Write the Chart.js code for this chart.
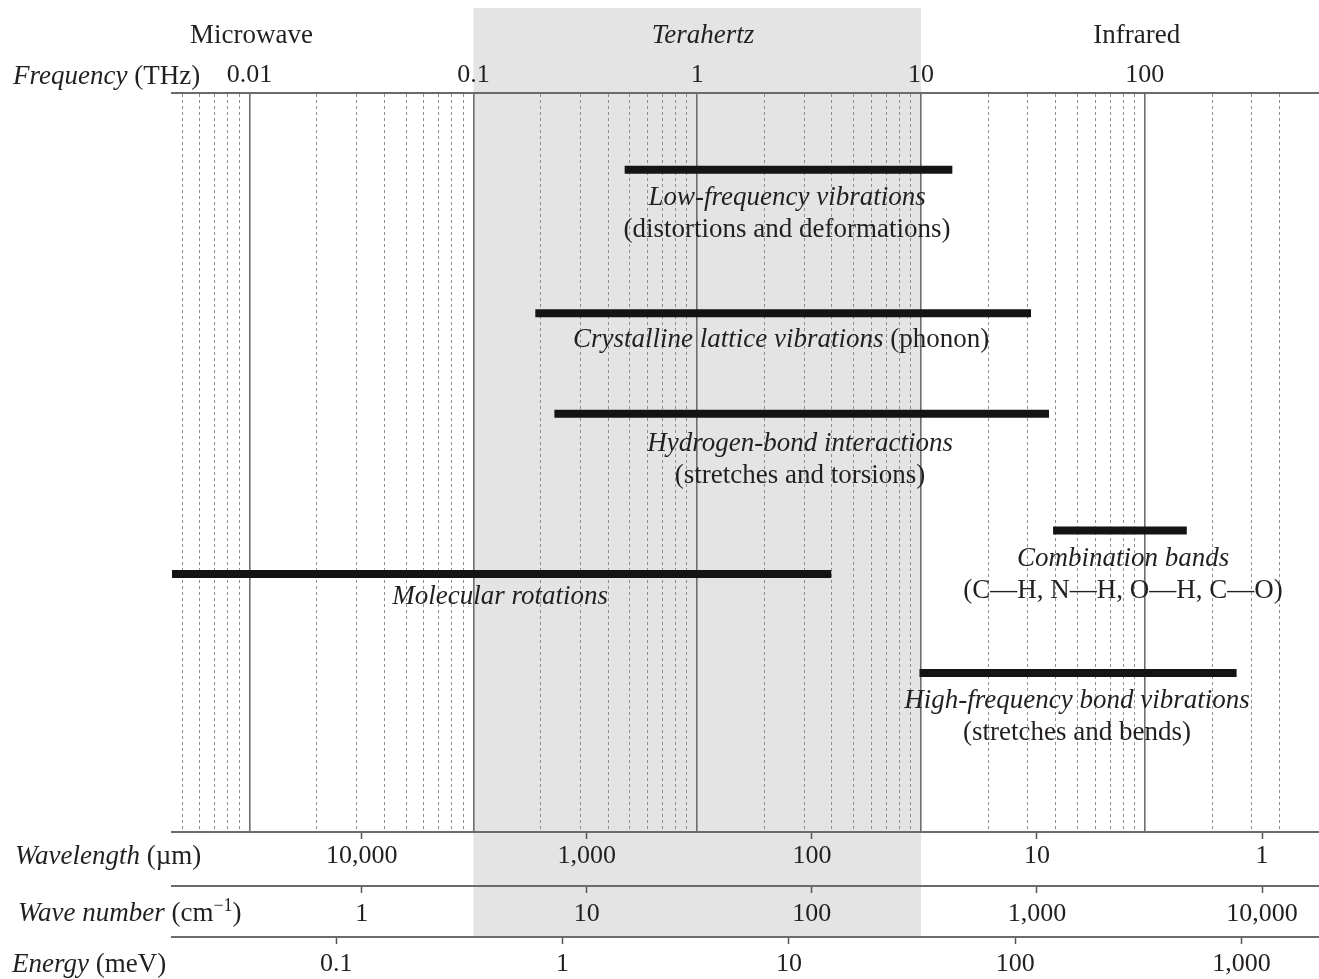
<!DOCTYPE html>
<html lang="en">
<head>
<meta charset="UTF-8">
<title>Terahertz spectrum</title>
<script src="https://cdn.jsdelivr.net/npm/chart.js@4"></script>
<style>
  html, body { margin: 0; padding: 0; background: #fff; }
  #chart { display: block; }
</style>
</head>
<body>
<canvas id="chart" width="1319" height="979"></canvas>
<script>
// frequency axis (THz): where the grid lines sit and which decades get a label
const freqGrid = [
  0.005, 0.006, 0.007, 0.008, 0.009,
  0.01, 0.02, 0.03, 0.04, 0.05, 0.06, 0.07, 0.08, 0.09,
  0.1, 0.2, 0.3, 0.4, 0.5, 0.6, 0.7, 0.8, 0.9,
  1, 2, 3, 4, 5, 6, 7, 8, 9,
  10, 20, 30, 40, 50, 60, 70, 80, 90,
  100, 200, 300, 400
];
const freqLabelValues = [0.01, 0.1, 1, 10, 100];
const freqLabels = ['0.01', '0.1', '1', '10', '100'];

// the three secondary scales under the plot
const wavelengthTicks = [10000, 1000, 100, 10, 1];
const wavenumberTicks = [1, 10, 100, 1000, 10000];
const energyTicks = [0.1, 1, 10, 100, 1000];

const regionNames = ['Microwave', 'Terahertz', 'Infrared'];
const regionCenters = [0.0102, 1.06, 92]; // THz
const terahertzBand = [0.1, 10];          // THz

// absorption bands
const bandNames = [
  'Low-frequency vibrations',
  'Crystalline lattice vibrations',
  'Hydrogen-bond interactions',
  'Combination bands',
  'Molecular rotations',
  'High-frequency bond vibrations'
];
const bandNotes = [
  '(distortions and deformations)',
  '(phonon)',
  '(stretches and torsions)',
  '(C\u2014H, N\u2014H, O\u2014H, C\u2014O)',
  '',
  '(stretches and bends)'
];
const bandStart = [0.474, 0.189, 0.230, 38.9, 0.0045, 9.84];  // THz
const bandEnd = [13.8, 31.0, 37.3, 154, 3.97, 257];           // THz
const bandRow = [10.4, 29.8, 43.4, 59.2, 65.1, 78.5];         // 0 = top of plot, 100 = bottom

// where each band's caption goes (x in THz, dy in px below the bar)
const labelLayout = [
  { at: 2.52, dy: 35 },
  { at: 2.37, dy: 34, inline: true },
  { at: 2.88, dy: 37 },
  { at: 79.9, dy: 36 },
  { at: 0.1315, dy: 30 },
  { at: 49.8, dy: 35 }
];
const lineGap = 32;

const ink = '#231f20';
const serif = 'Liberation Serif';
const isDecade = v => v > 0 && Math.abs(Math.log10(v) - Math.round(Math.log10(v))) < 1e-6;
const fmt = v => v.toLocaleString('en-US');

function fontOf(style, size) {
  return (style === 'i' ? 'italic ' : '') + size + 'px "' + serif + '"';
}

// draws a run of italic/roman/superscript pieces on one baseline
function drawParts(ctx, parts, x, y, align) {
  const size = 27;
  const widths = parts.map(([t, s]) => {
    ctx.font = fontOf(s, s === 's' ? 18 : size);
    return ctx.measureText(t).width;
  });
  const total = widths.reduce((a, b) => a + b, 0);
  let cx = align === 'center' ? x - total / 2 : x;
  ctx.textAlign = 'left';
  ctx.textBaseline = 'alphabetic';
  parts.forEach(([t, s], i) => {
    ctx.font = fontOf(s, s === 's' ? 18 : size);
    ctx.fillText(t, cx, s === 's' ? y - 10 : y);
    cx += widths[i];
  });
}

const textPlugin = {
  id: 'spectrumText',
  beforeDraw(chart) {
    const { ctx, scales: { x, en } } = chart;
    ctx.save();
    ctx.fillStyle = '#fff';
    ctx.fillRect(0, 0, chart.width, chart.height);
    const x0 = x.getPixelForValue(terahertzBand[0]);
    const x1 = x.getPixelForValue(terahertzBand[1]);
    ctx.fillStyle = '#e4e4e4';
    ctx.fillRect(x0, 8, x1 - x0, en.top - 8);
    ctx.restore();
  },
  afterDatasetsDraw(chart) {
    const { ctx, scales: { x, y } } = chart;
    ctx.save();
    ctx.fillStyle = ink;

    regionNames.forEach((name, i) => {
      drawParts(ctx, [[name, i === 1 ? 'i' : 'r']], x.getPixelForValue(regionCenters[i]), 43, 'center');
    });

    drawParts(ctx, [['Frequency', 'i'], [' (THz)', 'r']], 13, 84, 'left');
    drawParts(ctx, [['Wavelength', 'i'], [' (\u00b5m)', 'r']], 15, 864, 'left');
    drawParts(ctx, [['Wave number', 'i'], [' (cm', 'r'], ['\u22121', 's'], [')', 'r']], 18, 921, 'left');
    drawParts(ctx, [['Energy', 'i'], [' (meV)', 'r']], 12, 972, 'left');

    bandNames.forEach((name, i) => {
      const lay = labelLayout[i];
      const cx = x.getPixelForValue(lay.at);
      const by = y.getPixelForValue(bandRow[i]) + lay.dy;
      if (lay.inline) {
        drawParts(ctx, [[name, 'i'], [' ' + bandNotes[i], 'r']], cx, by, 'center');
      } else {
        drawParts(ctx, [[name, 'i']], cx, by, 'center');
        if (bandNotes[i]) drawParts(ctx, [[bandNotes[i], 'r']], cx, by + lineGap, 'center');
      }
    });
    ctx.restore();
  }
};

function lowerAxis(ticks, min, max, reverse, weight, height, padding) {
  return {
    type: 'logarithmic',
    position: 'bottom',
    min: min,
    max: max,
    reverse: reverse,
    weight: weight,
    afterBuildTicks: s => { s.ticks = ticks.map(v => ({ value: v })); },
    afterFit: s => { s.height = height; },
    ticks: {
      autoSkip: false, maxRotation: 0, minRotation: 0,
      padding: padding, color: ink,
      font: { family: serif, size: 26 },
      callback: v => fmt(v)
    },
    grid: { drawOnChartArea: false, drawTicks: true, tickLength: 7, tickColor: '#555', tickWidth: 1.5 },
    border: { color: '#6b6b6b', width: 2 }
  };
}

new Chart(document.getElementById('chart'), {
  type: 'line',
  data: {
    datasets: bandNames.map((name, i) => ({
      label: name,
      data: [{ x: bandStart[i], y: bandRow[i] }, { x: bandEnd[i], y: bandRow[i] }],
      borderColor: '#141414',
      borderWidth: 8,
      borderCapStyle: 'butt',
      pointRadius: 0,
      tension: 0,
      xAxisID: 'x',
      yAxisID: 'y'
    }))
  },
  options: {
    responsive: false,
    animation: false,
    devicePixelRatio: 1,
    layout: { padding: { left: 172, right: 0, top: 0, bottom: 0 } },
    plugins: { legend: { display: false }, tooltip: { enabled: false } },
    scales: {
      x: {
        type: 'logarithmic',
        position: 'top',
        min: 0.0045,
        max: 600,
        afterBuildTicks: s => { s.ticks = freqGrid.map(v => ({ value: v })); },
        afterFit: s => { s.height = 93; },
        ticks: {
          autoSkip: false, maxRotation: 0, minRotation: 0,
          padding: 2, color: ink,
          font: { family: serif, size: 26 },
          callback: v => {
            const i = freqLabelValues.findIndex(d => Math.abs(d - v) < d * 1e-6);
            return i < 0 ? '' : freqLabels[i];
          }
        },
        grid: {
          drawTicks: false,
          color: c => (c.tick && isDecade(c.tick.value)) ? '#6e6e6e' : '#8e8e8e',
          lineWidth: c => (c.tick && isDecade(c.tick.value)) ? 1.6 : 1
        },
        border: {
          color: '#6b6b6b',
          width: 2,
          dash: c => (c.tick && !isDecade(c.tick.value)) ? [3, 3] : []
        }
      },
      wl: lowerAxis(wavelengthTicks, 0.5587, 69600, true, 1, 54, 2),
      wn: lowerAxis(wavenumberTicks, 0.1437, 17900, false, 2, 51, 6),
      en: lowerAxis(energyTicks, 0.01879, 2200, false, 3, 42, 5),
      y: { type: 'linear', min: 0, max: 100, reverse: true, display: false }
    }
  },
  plugins: [textPlugin]
});
</script>
</body>
</html>
